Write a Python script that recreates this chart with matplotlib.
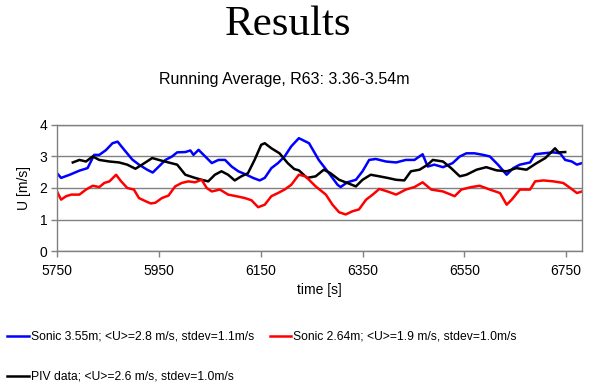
import matplotlib
matplotlib.use("Agg")
import matplotlib.pyplot as plt

blue_t = [5750, 5758, 5775, 5794, 5810, 5823, 5833, 5846, 5859, 5869, 5882, 5898, 5911, 5927, 5938,
          5950, 5963, 5976, 5986, 6002, 6012, 6018, 6028, 6041, 6054, 6067, 6080, 6093, 6106, 6122,
          6135, 6148, 6158, 6171, 6184, 6197, 6210, 6225, 6245, 6264, 6284, 6301, 6307, 6320, 6337,
          6350, 6363, 6376, 6396, 6416, 6435, 6452, 6468, 6478, 6491, 6508, 6527, 6541, 6554, 6570,
          6587, 6600, 6616, 6633, 6646, 6659, 6679, 6689, 6705, 6725, 6738, 6748, 6761, 6771, 6781]
blue_u = [2.47, 2.32, 2.42, 2.55, 2.63, 3.05, 3.05, 3.20, 3.42, 3.47, 3.21, 2.90, 2.74, 2.58, 2.49,
          2.68, 2.89, 3.00, 3.13, 3.14, 3.19, 3.05, 3.21, 3.00, 2.79, 2.89, 2.89, 2.68, 2.53, 2.42,
          2.32, 2.24, 2.32, 2.63, 2.79, 3.00, 3.32, 3.58, 3.42, 2.89, 2.47, 2.10, 2.03, 2.18, 2.26,
          2.53, 2.89, 2.92, 2.84, 2.81, 2.89, 2.89, 3.07, 2.68, 2.74, 2.66, 2.79, 3.00, 3.10, 3.10,
          3.05, 3.00, 2.74, 2.42, 2.63, 2.74, 2.81, 3.07, 3.10, 3.13, 3.10, 2.89, 2.84, 2.74, 2.79]

red_t = [5750, 5758, 5768, 5778, 5794, 5807, 5820, 5833, 5843, 5853, 5866, 5876, 5888, 5901, 5911,
         5924, 5934, 5943, 5956, 5969, 5982, 5995, 6008, 6021, 6034, 6044, 6054, 6070, 6086, 6102,
         6119, 6132, 6145, 6158, 6171, 6184, 6197, 6210, 6225, 6238, 6258, 6278, 6291, 6304, 6317,
         6330, 6343, 6357, 6370, 6383, 6399, 6416, 6435, 6452, 6468, 6485, 6508, 6531, 6544, 6564,
         6580, 6600, 6620, 6633, 6643, 6659, 6679, 6689, 6705, 6725, 6744, 6758, 6771, 6781]
red_u = [1.89, 1.63, 1.74, 1.79, 1.79, 1.95, 2.07, 2.03, 2.16, 2.21, 2.42, 2.21, 2.00, 1.95, 1.68,
         1.58, 1.51, 1.53, 1.68, 1.76, 2.05, 2.16, 2.21, 2.18, 2.26, 2.00, 1.89, 1.95, 1.79, 1.74,
         1.68, 1.61, 1.39, 1.47, 1.74, 1.84, 1.95, 2.10, 2.42, 2.37, 2.05, 1.79, 1.47, 1.23, 1.16,
         1.26, 1.32, 1.63, 1.79, 1.97, 1.89, 1.79, 1.95, 2.03, 2.18, 1.95, 1.89, 1.74, 1.95, 2.03,
         2.07, 1.95, 1.84, 1.47, 1.63, 1.95, 1.95, 2.21, 2.24, 2.21, 2.16, 2.00, 1.84, 1.89]

piv_t = [5781, 5794, 5807, 5820, 5833, 5853, 5872, 5888, 5904, 5917, 5937, 5950, 5969, 5986, 6002,
         6021, 6034, 6047, 6060, 6073, 6086, 6099, 6112, 6125, 6138, 6151, 6158, 6171, 6187, 6203,
         6216, 6225, 6241, 6258, 6274, 6287, 6304, 6320, 6337, 6350, 6366, 6383, 6399, 6416, 6432,
         6445, 6462, 6478, 6488, 6508, 6524, 6541, 6554, 6574, 6593, 6613, 6633, 6652, 6672, 6692,
         6709, 6722, 6728, 6735, 6748]
piv_u = [2.81, 2.89, 2.84, 3.00, 2.89, 2.84, 2.81, 2.74, 2.61, 2.74, 2.95, 2.89, 2.81, 2.74, 2.42,
         2.32, 2.26, 2.21, 2.42, 2.53, 2.42, 2.24, 2.37, 2.47, 2.89, 3.37, 3.42, 3.26, 3.10, 2.79,
         2.60, 2.56, 2.32, 2.37, 2.58, 2.47, 2.26, 2.16, 2.05, 2.26, 2.42, 2.37, 2.32, 2.26, 2.24,
         2.53, 2.58, 2.74, 2.89, 2.84, 2.63, 2.37, 2.42, 2.58, 2.66, 2.56, 2.53, 2.63, 2.58, 2.79,
         2.95, 3.16, 3.26, 3.13, 3.14]

labels = ["Sonic 3.55m; <U>=2.8 m/s, stdev=1.1m/s",
          "PIV data; <U>=2.6 m/s, stdev=1.0m/s",
          "Sonic 2.64m; <U>=1.9 m/s, stdev=1.0m/s"]
x_ticks = [5750, 5950, 6150, 6350, 6550, 6750]
y_ticks = [0, 1, 2, 3, 4]

plt.rcParams['font.family'] = ['Liberation Sans', 'DejaVu Sans']

fig = plt.figure(figsize=(6.0, 3.88), dpi=100)
ax = fig.add_axes([0.095, 0.353, 0.875, 0.325])

lb, = ax.plot(blue_t, blue_u, color='#0000ff', lw=1.8)
lk, = ax.plot(piv_t, piv_u, color='black', lw=1.8)
lr, = ax.plot(red_t, red_u, color='#ff0000', lw=1.8)

ax.set_xlim(5750, 6781)
ax.set_ylim(0, 4)
ax.set_xticks(x_ticks)
ax.set_yticks(y_ticks)
ax.tick_params(axis='both', labelsize=10, color='#808080', length=4, width=1, direction='out')
ax.tick_params(axis='y', pad=3)
ax.tick_params(axis='x', pad=5)
ax.grid(axis='y', color='#808080', lw=1)
ax.set_axisbelow(True)
for s in ax.spines.values():
    s.set_color('#808080')
    s.set_linewidth(1)
ax.set_xlabel('time [s]', fontsize=10, labelpad=4)
ax.set_ylabel('U [m/s]', fontsize=10, labelpad=6)

fig.text(0.48, 0.935, 'Results', ha='center', va='center',
         fontsize=31, family=['Liberation Serif', 'DejaVu Serif'])
fig.text(0.474, 0.795, 'Running Average, R63: 3.36-3.54m', ha='center', va='center', fontsize=11.5)

fig.legend([lb, lk, lr], labels, ncol=2, loc='upper left', bbox_to_anchor=(0.012, 0.147),
           frameon=False, fontsize=8.7, handlelength=1.8, handletextpad=0.15,
           columnspacing=1.3, labelspacing=2.3, borderaxespad=0, borderpad=0)

fig.savefig('out.png', dpi=100)
